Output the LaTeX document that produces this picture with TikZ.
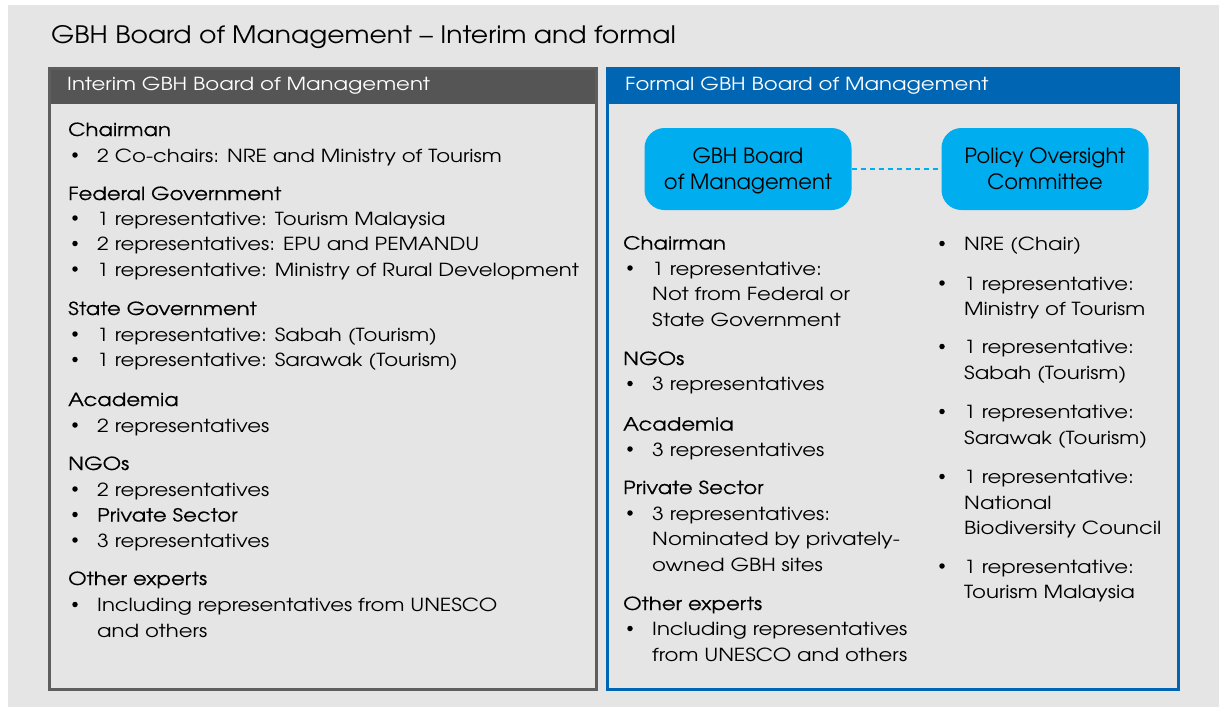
\documentclass[tikz,border=0pt]{standalone}
\usepackage{fontspec}
\setmainfont{texgyreadventor}[Extension=.otf, UprightFont=*-regular,
    BoldFont=*-bold, FakeStretch=1.18]
\newfontfamily\headfont{texgyreadventor}[Extension=.otf,
    UprightFont=*-regular, FakeStretch=1.18, FakeBold=0.4]
\newfontfamily\titlefont{texgyreadventor}[Extension=.otf,
    UprightFont=*-regular, FakeStretch=1.11, Ligatures=TeX]
\newfontfamily\boxfont{texgyreadventor}[Extension=.otf, UprightFont=*-regular]
\usepackage{tikz}
\usetikzlibrary{positioning}

\definecolor{pagegrey}{HTML}{E5E5E5}
\definecolor{darkbar}{HTML}{555555}
\definecolor{darkline}{HTML}{5E5E5E}
\definecolor{boardblue}{HTML}{0066B3}
\definecolor{cyanbox}{HTML}{00AEEF}

% lines of one entry, first baseline on top
\newcommand\rows[1]{\begin{tabular}[t]{@{}l@{}}#1\end{tabular}}

\tikzset{
    head/.style={anchor=base west, inner sep=0pt,
        font=\headfont\fontsize{18}{25.5}\selectfont},
    item/.style={anchor=base west, inner sep=0pt,
        font=\fontsize{18}{25.5}\selectfont},
    dot/.style={circle, fill=black, inner sep=0pt, minimum size=5.5pt},
    bar/.style={anchor=north west, inner xsep=19pt, inner ysep=0pt,
        minimum height=37pt, text=white, align=left,
        font=\fontsize{18}{22}\selectfont},
    unit/.style={fill=cyanbox, rounded corners=20pt, align=center,
        minimum width=207pt, minimum height=82pt, inner sep=0pt,
        text depth=0pt, font=\boxfont\fontsize{21}{26}\selectfont}
}

\begin{document}
\begin{tikzpicture}[x=1pt, y=-1pt]

    \useasboundingbox (0,0) rectangle (1219,707);
    \fill[pagegrey] (8,5) rectangle (1219,707);

    % Title
    \node[anchor=base west, inner sep=0pt, font=\titlefont\fontsize{24}{28}\selectfont]
        (title) at (51,43.5) {GBH Board of Management – Interim and formal};

    % Interim panel
    \node[bar, fill=darkbar, text width=512pt] (ihead) at (48,67)
        {Interim GBH Board of Management};
    \draw[darkline, line width=3pt] (49.5,68) rectangle (596.5,689.5);

    \foreach \n/\y/\t in {ichair/136/Chairman, ifed/200/Federal Government,
            istate/315/State Government, iacad/406/Academia,
            ingo/470/NGOs, iexp/585/Other experts}
        \node[head] (\n) at (68,\y) {\t};

    \foreach \n/\y/\t in {
            ic1/162/{2 Co-chairs: NRE and Ministry of Tourism},
            if1/225/{1 representative: Tourism Malaysia},
            if2/250.5/{2 representatives: EPU and PEMANDU},
            if3/276/{1 representative: Ministry of Rural Development},
            is1/341/{1 representative: Sabah (Tourism)},
            is2/366.5/{1 representative: Sarawak (Tourism)},
            ia1/432/{2 representatives},
            in1/496/{2 representatives},
            in2/521.5/{{\headfont Private Sector}},
            in3/547/{3 representatives},
            ie1/611.5/{Including representatives from UNESCO\\and others}} {
        \node[dot] (\n b) at (75,\y-7) {};
        \node[item] (\n) at (97,\y) {\rows{\t}};
    }

    % Formal panel
    \node[bar, fill=boardblue, text width=536pt] (fhead) at (606,67)
        {Formal GBH Board of Management};
    \draw[boardblue, line width=3pt] (607.5,68) rectangle (1178.5,689.5);

    \node[unit] (board) at (748,169) {GBH Board\\of Management};
    \node[unit] (policy) at (1045,169) {Policy Oversight\\Committee};
    \draw[cyanbox, line width=2.5pt, dash pattern=on 5pt off 4pt] (board) -- (policy);

    \foreach \n/\y/\t in {fchair/249.5/Chairman, fngo/365/NGOs,
            facad/430.5/Academia, fpriv/494/Private Sector,
            fexp/610/Other experts}
        \node[head] (\n) at (623,\y) {\t};

    \foreach \n/\y/\t in {
            fc1/275/{1 representative:\\Not from Federal or\\State Government},
            fn1/390.5/{3 representatives},
            fa1/456/{3 representatives},
            fp1/520/{3 representatives:\\Nominated by privately-\\owned GBH sites},
            fe1/635.5/{Including representatives\\from UNESCO and others}} {
        \node[dot] (\n b) at (630,\y-7) {};
        \node[item] (\n) at (652,\y) {\rows{\t}};
    }

    % Oversight members
    \foreach \n/\y/\t in {
            p1/250.5/{NRE (Chair)},
            p2/290/{1 representative:\\Ministry of Tourism},
            p3/353.5/{1 representative:\\Sabah (Tourism)},
            p4/418.5/{1 representative:\\Sarawak (Tourism)},
            p5/483.5/{1 representative:\\National\\Biodiversity Council},
            p6/573/{1 representative:\\Tourism Malaysia}} {
        \node[dot] (\n b) at (942,\y-7) {};
        \node[item] (\n) at (964,\y) {\rows{\t}};
    }

\end{tikzpicture}
\end{document}
